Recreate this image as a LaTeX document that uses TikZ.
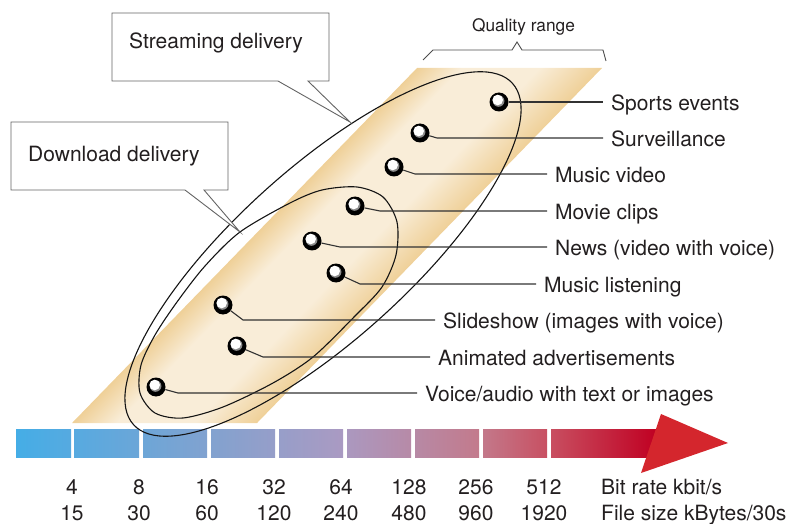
\documentclass[tikz,border=0pt]{standalone}
\usepackage{fontspec}
\setmainfont{TeX Gyre Heros}
\usetikzlibrary{calc}

\definecolor{inktext}{HTML}{231F20}
\definecolor{tanedge}{RGB}{239,208,152}
\definecolor{tanmid}{RGB}{249,237,216}
\definecolor{leadgray}{RGB}{50,50,50}
\definecolor{boxgray}{RGB}{100,100,100}
\definecolor{headred}{RGB}{212,38,45}
% colour ramp of the bit-rate bar (left / right end of each block)
\definecolor{bl1}{RGB}{69,173,230}  \definecolor{br1}{RGB}{86,170,224}
\definecolor{bl2}{RGB}{87,170,224}  \definecolor{br2}{RGB}{107,166,216}
\definecolor{bl3}{RGB}{109,166,215} \definecolor{br3}{RGB}{129,162,208}
\definecolor{bl4}{RGB}{130,162,207} \definecolor{br4}{RGB}{150,158,201}
\definecolor{bl5}{RGB}{151,158,201} \definecolor{br5}{RGB}{170,154,194}
\definecolor{bl6}{RGB}{171,152,191} \definecolor{br6}{RGB}{183,138,167}
\definecolor{bl7}{RGB}{183,137,165} \definecolor{br7}{RGB}{195,122,140}
\definecolor{bl8}{RGB}{195,120,138} \definecolor{br8}{RGB}{200,80,98}
\definecolor{bl9}{RGB}{200,78,96}   \definecolor{br9}{RGB}{192,0,34}

% light band running along the quality strip
\pgfdeclarehorizontalshading{stripshade}{100bp}{
  color(0bp)=(tanedge); color(25bp)=(tanedge); color(37bp)=(tanmid);
  color(58bp)=(tanmid); color(75bp)=(tanedge); color(100bp)=(tanedge)}

\newcommand\labelfont{\fontsize{21}{25}\selectfont}
\newcommand\rangefont{\fontsize{17.3}{20}\selectfont}

\begin{document}
\begin{tikzpicture}[x=1pt,y=-1pt,
  lbl/.style={anchor=west, inner sep=0pt, text height=17pt, text depth=0pt,
              font=\labelfont, text=inktext},
  numlbl/.style={anchor=base, inner sep=0pt, font=\labelfont, text=inktext},
  leader/.style={draw=leadgray, line width=1.1pt, shorten >=8pt},
  outline/.style={draw=black!92, line width=1.1pt},
  callout/.style={draw=boxgray, fill=white, line width=0.9pt},
  bracket/.style={draw=black!70, line width=0.9pt},
  dotball/.style={circle, fill=black, minimum size=19pt, inner sep=0pt,
    path picture={
      \fill[black!45] ([shift={(-0.4pt,1.0pt)}]path picture bounding box.center) circle (5.8pt);
      \fill[white] ([shift={(-1.3pt,2.0pt)}]path picture bounding box.center) circle (5.3pt);
    }}]
\useasboundingbox (0,0) rectangle (788,524);

% ---- bit-rate bar ----
\foreach \i/\xa/\xb in {1/16/71, 2/74/139, 3/143/207, 4/211/275, 5/279/343,
                        6/347/411, 7/415/479, 8/483/547, 9/551/657}
  \shade[left color=bl\i, right color=br\i] (\xa,429) rectangle (\xb,457);
\fill[headred] (661,414) -- (728,443) -- (641,473) -- cycle;

% ---- quality strip ----
\begin{scope}[transform canvas={xslant=0.9718}]
  \shade[shading=stripshade] (483.1,423) rectangle (668.1,68);
\end{scope}

% ---- delivery regions ----
\draw[outline, rotate around={42:(323,254)}]
  (323,254) ellipse [x radius=255pt, y radius=86pt];
\draw[outline] plot[smooth cycle] coordinates {
  (357,187) (383,197) (397,222) (396,255) (382,287) (355,316) (313,357)
  (273,383) (223,407) (183,418) (155,413) (140,393) (141,365) (155,335)
  (177,302) (205,266) (240,232) (290,203) (322,190)};

% ---- callouts ----
\draw[callout] (112,13) -- (329,13) -- (329,81) -- (308,81) -- (350,122)
  -- (278,81) -- (112,81) -- cycle;
\node[anchor=base west, inner sep=0pt, font=\labelfont, text=inktext]
  (stream) at (129,49) {Streaming delivery};
\draw[callout] (11,122) -- (228,122) -- (228,190) -- (204,190) -- (240,232)
  -- (185,190) -- (11,190) -- cycle;
\node[anchor=base west, inner sep=0pt, font=\labelfont, text=inktext]
  (download) at (28,162) {Download delivery};

% ---- quality range bracket ----
\draw[bracket] (423,60) -- (433,50) -- (512,50) -- (517,42) -- (522,50)
  -- (603,50) -- (606,61);
\node[anchor=base, inner sep=0pt, font=\rangefont, text=inktext]
  (quality) at (523.5,32) {Quality range};

% ---- applications ----
\node[lbl] (l1) at (611,102) {Sports events};
\node[lbl] (l2) at (611,138) {Surveillance};
\node[lbl] (l3) at (555,174) {Music video};
\node[lbl] (l4) at (555,211) {Movie clips};
\node[lbl] (l5) at (555,247) {News (video with voice)};
\node[lbl] (l6) at (544,284) {Music listening};
\node[lbl] (l7) at (443,320) {Slideshow (images with voice)};
\node[lbl] (l8) at (438,357) {Animated advertisements};
\node[lbl] (l9) at (425,393) {Voice/audio with text or images};

\coordinate (k2) at (437,138);
\coordinate (k3) at (415,174);
\coordinate (k4) at (380,211);
\coordinate (k5) at (340,247);
\coordinate (k6) at (360,284);
\coordinate (k7) at (243,320);
\coordinate (k8) at (263,357);
\coordinate (k9) at (178,393);

\node[dotball] (b1) at (499,102) {};
\node[dotball] (b2) at (420,133) {};
\node[dotball] (b3) at (394,167) {};
\node[dotball] (b4) at (355,206) {};
\node[dotball] (b5) at (312,241) {};
\node[dotball] (b6) at (336,273) {};
\node[dotball] (b7) at (223,305) {};
\node[dotball] (b8) at (237,346) {};
\node[dotball] (b9) at (156,387) {};

\draw[leader] (b1) -- (l1.west);
\foreach \i in {2,...,9}
  \draw[leader] (b\i) -- (k\i) -- (l\i.west);

% ---- scale values ----
\foreach \x/\r/\f [count=\n] in {72/4/15, 139/8/30, 207/16/60, 274/32/120,
    341/64/240, 409/128/480, 476/256/960, 544/512/1920} {
  \node[numlbl] (rate\n) at (\x,494.5) {\r};
  \node[numlbl] (size\n) at (\x,520) {\f};
}
\node[numlbl, anchor=base west] (ratecap) at (601,494.5) {Bit rate kbit/s};
\node[numlbl, anchor=base west] (sizecap) at (601,520) {File size kBytes/30s};
\end{tikzpicture}
\end{document}
